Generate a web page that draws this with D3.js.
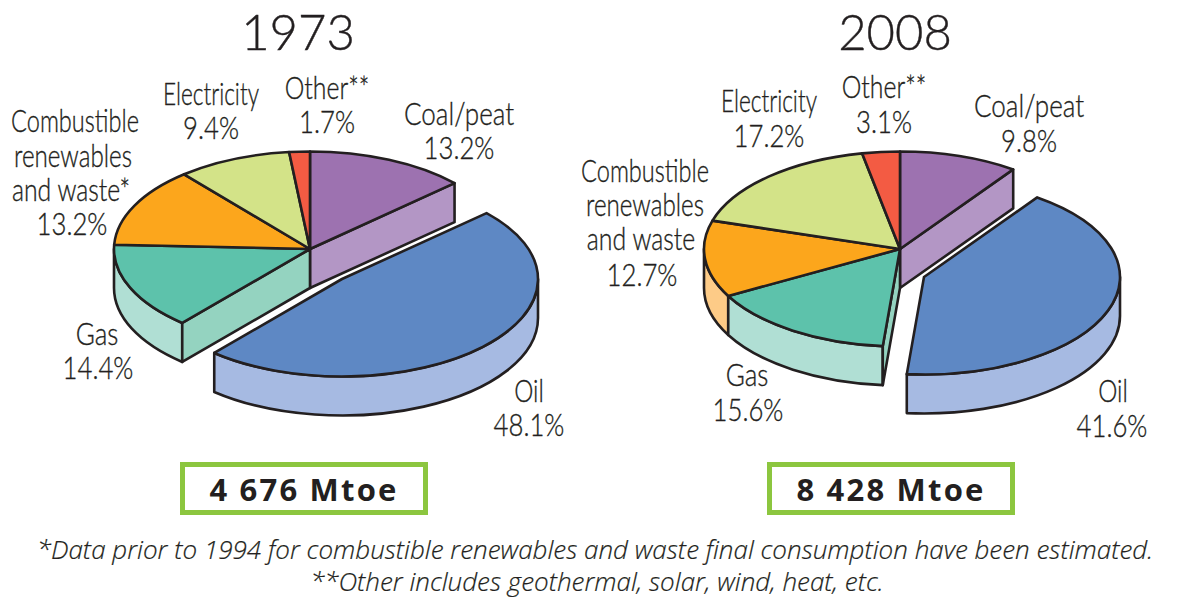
<!DOCTYPE html>
<html><head><meta charset="utf-8">
<script src="https://cdn.jsdelivr.net/npm/d3@7"></script>
<style>html,body{margin:0;background:#fff}svg{display:block}
text{fill:#231f20}
.lab{font-family:Lato;font-weight:300;font-size:31px;text-anchor:middle;stroke:#231f20;stroke-width:.35px}
.title{font-family:Lato;font-weight:300;font-size:49px;text-anchor:middle;stroke:#231f20;stroke-width:.4px}
.total{font-family:"Open Sans";font-weight:700;font-size:31px;letter-spacing:2.2px;text-anchor:middle}
.foot{font-family:"Open Sans";font-weight:300;font-style:italic;font-size:26px;text-anchor:middle;stroke:#231f20;stroke-width:.2px}
</style></head><body>
<svg id="c" width="1189" height="606"></svg>
<script>
const categories=["Coal/peat","Oil","Gas","Combustible renewables and waste","Electricity","Other"];
const values1973=[13.2,48.1,14.4,13.2,9.4,1.7];
const values2008=[9.8,41.6,15.6,12.7,17.2,3.1];
const titles=["1973","2008"];
const totals=["4 676 Mtoe","8 428 Mtoe"];
const footnotes=["*Data prior to 1994 for combustible renewables and waste final consumption have been estimated.","**Other includes geothermal, solar, wind, heat, etc."];
const labels1973=[["Coal/peat","13.2%"],["Oil","48.1%"],["Gas","14.4%"],["Combustible","renewables","and waste*","13.2%"],["Electricity","9.4%"],["Other**","1.7%"]];
const labels2008=[["Coal/peat","9.8%"],["Oil","41.6%"],["Gas","15.6%"],["Combustible","renewables","and waste","12.7%"],["Electricity","17.2%"],["Other**","3.1%"]];

// styling and layout
const topColors=["#9d72b0","#5e88c4","#5dc2ab","#fca61c","#d3e388","#f35b43"];
const wallColors=["#b396c5","#a6bae2","#b0dfd4","#fdcb87","#d3e388","#f35b43"];
const cutColors=["#b396c5","#a6bae2","#94d3c0","#fdcb87","#d3e388","#f35b43"];
const RX=196,RY=97.5,DEPTH=39,INK="#231f20",SW=2.6;
const wordSqueeze={"Coal/peat":.84,"Oil":.78,"Gas":.84,"Combustible":.76,"renewables":.78,"and waste*":.8,"and waste":.8,"Electricity":.73,"Other**":.8};
const squeezeOf=t=>wordSqueeze[t]||.83;
const charts=[
 {values:values1973,labels:labels1973,title:titles[0],total:totals[0],cx:310,cy:249,off:[32,30],titleX:298,boxX:180,
  pos:[[[459,125],[459,159]],[[529,402],[529,436]],[[97,345],[98,379]],[[75,132],[73,167],[71,201],[72,235]],[[211,105],[211,139]],[[327,99],[327,133]]]},
 {values:values2008,labels:labels2008,title:titles[1],total:totals[1],cx:900,cy:249,off:[24,28],titleX:895,boxX:767,
  pos:[[[1029,117],[1029,152]],[[1113,402],[1112,437]],[[747,386],[748,421]],[[645,182],[645,216],[641,250],[642,286]],[[769,112],[769,147]],[[884,98],[884,133]]]}
];
const svg=d3.select("#c");
const pie=d3.pie().sort(null).value(d=>d);
const arc=d3.arc().innerRadius(0).outerRadius(RX);
const P=a=>[RX*Math.sin(a),-RY*Math.cos(a)];

charts.forEach(ch=>{
  const arcs=pie(ch.values);
  const g=svg.append("g").attr("transform",`translate(${ch.cx},${ch.cy})`);
  const sliceG=(i)=>{
    const o=i===1?ch.off:[0,0];
    return g.append("g").attr("transform",`translate(${o[0]},${o[1]})`);
  };
  const outerWall=(gg,a0,a1,fill)=>{
    const s=Math.max(a0,Math.PI/2),e=Math.min(a1,3*Math.PI/2);
    if(e<=s)return;
    const pa=P(s),pb=P(e);
    gg.append("path").attr("fill",fill).attr("stroke",INK).attr("stroke-width",SW).attr("stroke-linejoin","round")
      .attr("d",`M${pa[0]},${pa[1]}A${RX},${RY} 0 0 1 ${pb[0]},${pb[1]}L${pb[0]},${pb[1]+DEPTH}A${RX},${RY} 0 0 0 ${pa[0]},${pa[1]+DEPTH}Z`);
  };
  const cutWall=(gg,a,fill)=>{
    const p=P(a);
    gg.append("path").attr("fill",fill).attr("stroke",INK).attr("stroke-width",SW).attr("stroke-linejoin","round")
      .attr("d",`M0,0L${p[0]},${p[1]}L${p[0]},${p[1]+DEPTH}L0,${DEPTH}Z`);
  };
  const top=(gg,d,i)=>{
    gg.append("path").attr("d",arc(d)).attr("fill",topColors[i]).attr("stroke",INK).attr("stroke-width",SW)
      .attr("stroke-linejoin","round").attr("vector-effect","non-scaling-stroke")
      .attr("transform",`scale(1,${RY/RX})`);
  };
  const main=sliceG(0);
  cutWall(main,arcs[0].endAngle,cutColors[0]);
  [3,2].forEach(i=>outerWall(main,arcs[i].startAngle,arcs[i].endAngle,wallColors[i]));
  cutWall(main,arcs[2].startAngle,cutColors[2]);
  arcs.forEach((d,i)=>{if(i!==1)top(main,d,i);});
  const oil=sliceG(1);
  outerWall(oil,arcs[1].startAngle,arcs[1].endAngle,wallColors[1]);
  top(oil,arcs[1],1);

  ch.labels.forEach((lines,i)=>lines.forEach((t,j)=>{
    const [x,y]=ch.pos[i][j];
    svg.append("text").attr("class","lab").attr("transform",`translate(${x},${y}) scale(${squeezeOf(t)},1)`).text(t);
  }));
  svg.append("text").attr("class","title").attr("x",ch.titleX).attr("y",50).text(ch.title);
  svg.append("rect").attr("x",ch.boxX+2.5).attr("y",464.5).attr("width",243).attr("height",48)
     .attr("fill","#fff").attr("stroke","#8cc63f").attr("stroke-width",5);
  svg.append("text").attr("class","total").attr("x",ch.boxX+124).attr("y",501).text(ch.total);
});
footnotes.forEach((t,i)=>svg.append("text").attr("class","foot").attr("transform",`translate(${i?597:595},${i?591:559}) scale(1,1)`).text(t));
</script></body></html>
